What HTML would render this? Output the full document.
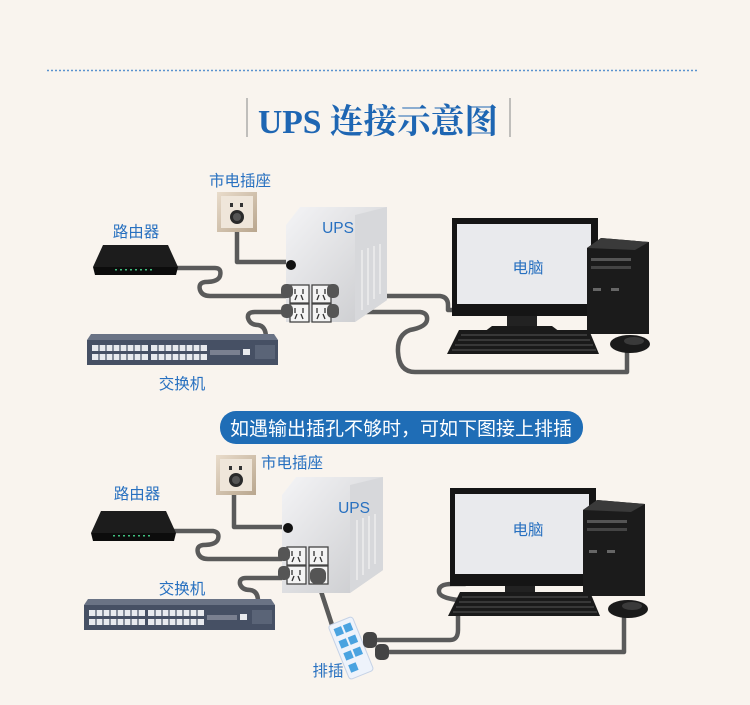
<!DOCTYPE html>
<html><head><meta charset="utf-8"><style>
html,body{margin:0;padding:0;background:#f9f4ee;}
svg{display:block}
text{font-family:"Liberation Sans","Noto Sans CJK SC",sans-serif;}
</style></head><body>
<svg width="750" height="705" viewBox="0 0 750 705" xmlns="http://www.w3.org/2000/svg">
<defs>
<linearGradient id="ups" x1="0" y1="0" x2="1" y2="1"><stop offset="0" stop-color="#f4f4f6"/><stop offset="1" stop-color="#c8c9cc"/></linearGradient>
<linearGradient id="sock" x1="0" y1="0" x2="1" y2="1"><stop offset="0" stop-color="#e9dccb"/><stop offset="1" stop-color="#b9a68e"/></linearGradient>
<g id="router">
<polygon points="10,0 75,0 85,22 0,22" fill="#1c1c1c"/>
<polygon points="0,22 85,22 83,30 2,30" fill="#0c0c0c"/>
<g fill="#3fbf7f"><rect x="22" y="24" width="2" height="1.5"/><rect x="27" y="24" width="2" height="1.5"/><rect x="32" y="24" width="2" height="1.5"/><rect x="37" y="24" width="2" height="1.5"/><rect x="42" y="24" width="2" height="1.5"/><rect x="47" y="24" width="2" height="1.5"/><rect x="52" y="24" width="2" height="1.5"/><rect x="57" y="24" width="2" height="1.5"/></g>
</g>
<g id="switch">
<polygon points="4,0 187,0 191,6 0,6" fill="#6a7385"/>
<rect x="0" y="6" width="191" height="25" fill="#465064"/>
<g fill="#e8eaee">
<rect x="5" y="11" width="56" height="6"/><rect x="5" y="20" width="56" height="6"/>
<rect x="64" y="11" width="56" height="6"/><rect x="64" y="20" width="56" height="6"/>
<rect x="123" y="16" width="30" height="5" fill="#7a8090"/>
<rect x="156" y="15" width="7" height="6"/>
</g>
<g stroke="#465064" stroke-width="1.2"><path d="M12 11v15M19 11v15M26 11v15M33 11v15M40 11v15M47 11v15M54 11v15M71 11v15M78 11v15M85 11v15M92 11v15M99 11v15M106 11v15M113 11v15"/></g>
<rect x="168" y="11" width="20" height="14" fill="#5a6477"/>
</g>
<g id="socket">
<rect x="0" y="0" width="40" height="40" fill="url(#sock)"/>
<rect x="4" y="4" width="32" height="32" fill="#efe6da"/>
<rect x="13" y="11" width="3" height="4" fill="#333"/><rect x="23" y="11" width="3" height="4" fill="#333"/>
<circle cx="20" cy="25" r="7" fill="#2a2a2a"/><circle cx="20" cy="25" r="4" fill="#555"/>
</g>
<g id="monitor">
<rect x="0" y="0" width="146" height="98" fill="#151515"/>
<rect x="5" y="6" width="134" height="80" fill="#e9eaed"/>
<rect x="55" y="98" width="30" height="10" fill="#222"/>
<polygon points="40,108 100,108 108,114 32,114" fill="#1a1a1a"/>
</g>
<g id="tower">
<polygon points="0,10 14,0 62,4 62,96 0,96" fill="#1b1b1b"/>
<polygon points="14,0 62,4 48,12 0,10" fill="#3a3a3a"/>
<rect x="4" y="20" width="40" height="3" fill="#555"/><rect x="4" y="28" width="40" height="3" fill="#444"/>
<rect x="6" y="50" width="8" height="3" fill="#666"/><rect x="24" y="50" width="8" height="3" fill="#666"/>
</g>
<g id="kb">
<polygon points="12,0 142,0 152,24 0,24" fill="#1a1a1a"/>
<g stroke="#555" stroke-width="1"><path d="M14 5h126M11 10h132M8 15h138M5 20h144"/></g>
</g>
<g id="mouse"><ellipse cx="20" cy="9" rx="20" ry="9" fill="#1a1a1a"/><ellipse cx="24" cy="6" rx="10" ry="4" fill="#3a3a3a"/></g>
<g id="outlet"><rect x="0" y="0" width="19" height="18" fill="#f4f4f4" stroke="#444" stroke-width="1.3"/><path d="M5 4v5M13 4v5M7 10l-2 5M11 10l2 5" stroke="#333" stroke-width="1.3"/></g>
<g id="plug"><rect x="0" y="0" width="12" height="14" rx="5" fill="#555"/></g>
</defs>

<line x1="47" y1="70.5" x2="697" y2="70.5" stroke="#5b93cf" stroke-width="1.6" stroke-dasharray="2,2"/>
<line x1="247" y1="98" x2="247" y2="137" stroke="#888" stroke-width="1"/>
<line x1="510" y1="98" x2="510" y2="137" stroke="#888" stroke-width="1"/>
<text x="258" y="133" textLength="240" lengthAdjust="spacingAndGlyphs" font-size="34" font-weight="bold" fill="#1e66b3" style="font-family:'Liberation Serif','Noto Serif CJK SC',serif">UPS 连接示意图</text>

<g fill="none" stroke="#5a5a5a" stroke-width="4.5" stroke-linejoin="round" stroke-linecap="round">
<path d="M237 225 V262 H290"/>
<path d="M175 268 H215 Q222 268 220 276 Q218 282 205 282 Q198 283 200 290 Q202 296 210 296 H290"/>
<path d="M290 312 H255 Q247 312 248 318 Q250 325 258 325 Q266 326 266 338"/>
<path d="M335 296 H440 Q448 297 448 305 V310 H460"/>
<path d="M335 312 H420 Q428 313 427 320 Q426 327 410 330 Q397 335 398 352 Q399 372 415 372 H627 V340"/>
</g>
<use href="#socket" x="217" y="192"/>
<polygon points="286,225 300,207 387,207 387,300 355,322 286,322" fill="url(#ups)"/>
<polygon points="355,215 387,207 387,300 355,322" fill="#d7d8db"/>
<g stroke="#eee" stroke-width="1.5"><path d="M362 250v60M368 248v57M374 246v53M380 244v50"/></g>
<circle cx="291" cy="265" r="5" fill="#111"/>
<use href="#outlet" x="290" y="285"/><use href="#outlet" x="312" y="285"/>
<use href="#outlet" x="290" y="304"/><use href="#outlet" x="312" y="304"/>
<use href="#plug" x="281" y="284"/><use href="#plug" x="281" y="304"/>
<use href="#plug" x="327" y="284"/><use href="#plug" x="327" y="304"/>
<use href="#router" x="93" y="245"/>
<use href="#switch" x="87" y="334"/>
<use href="#monitor" x="452" y="218"/>
<use href="#tower" x="587" y="238"/>
<use href="#kb" x="447" y="330"/>
<use href="#mouse" x="610" y="335"/>
<g fill="#2770c0" font-size="15.5">
<text x="240" y="186" text-anchor="middle">市电插座</text>
<text x="136" y="237" text-anchor="middle">路由器</text>
<text x="338" y="233" text-anchor="middle">UPS</text>
<text x="528" y="273" text-anchor="middle">电脑</text>
<text x="182" y="389" text-anchor="middle">交换机</text>
</g>

<rect x="220" y="411" width="363" height="33" rx="16" fill="#1f6db6"/>
<text x="401" y="435" text-anchor="middle" font-size="19" fill="#fff">如遇输出插孔不够时，可如下图接上排插</text>

<g fill="none" stroke="#5a5a5a" stroke-width="4.5" stroke-linejoin="round" stroke-linecap="round">
<path d="M234 490 V527 H288"/>
<path d="M172 531 H213 Q220 532 218 539 Q216 545 203 545 Q196 546 198 553 Q200 559 208 559 H288"/>
<path d="M288 578 H246 Q239 578 240 584 Q242 590 250 590 Q258 591 258 601"/>
<path d="M318 582 L333 628"/>
<path d="M372 640 H450 Q458 640 458 630 V600 Q440 598 439 592 Q438 584 452 584 H465"/>
<path d="M385 652 H624 V612"/>
</g>
<use href="#socket" x="216" y="455"/>
<polygon points="282,495 296,477 383,477 383,570 350,593 282,593" fill="url(#ups)"/>
<polygon points="350,485 383,477 383,570 350,593" fill="#d7d8db"/>
<g stroke="#eee" stroke-width="1.5"><path d="M357 520v60M363 518v57M369 516v53M375 514v50"/></g>
<circle cx="288" cy="528" r="5" fill="#111"/>
<use href="#outlet" x="287" y="547"/><use href="#outlet" x="309" y="547"/>
<use href="#outlet" x="287" y="566"/><use href="#outlet" x="309" y="566"/>
<use href="#plug" x="278" y="547"/><use href="#plug" x="278" y="566"/>
<rect x="310" y="568" width="16" height="16" rx="6" fill="#555"/>
<use href="#router" x="91" y="511"/>
<use href="#switch" x="84" y="599"/>
<use href="#monitor" x="450" y="488"/>
<use href="#tower" x="583" y="500"/>
<use href="#kb" x="448" y="592"/>
<use href="#mouse" x="608" y="600"/>
<g transform="translate(328,626) rotate(-22)">
<rect x="0" y="0" width="26" height="58" rx="3" fill="#eef3fb" stroke="#c5d2e6"/>
<rect x="4" y="5" width="8" height="8" fill="#4aa3e0"/><rect x="14" y="5" width="8" height="8" fill="#4aa3e0"/>
<rect x="4" y="18" width="8" height="8" fill="#4aa3e0"/><rect x="14" y="18" width="8" height="8" fill="#4aa3e0"/>
<rect x="4" y="31" width="8" height="8" fill="#4aa3e0"/><rect x="14" y="31" width="8" height="8" fill="#4aa3e0"/>
<rect x="4" y="44" width="8" height="8" fill="#4aa3e0"/>
</g>
<rect x="363" y="632" width="14" height="16" rx="5" fill="#444"/>
<rect x="375" y="644" width="14" height="16" rx="5" fill="#444"/>
<g fill="#2770c0" font-size="15.5">
<text x="292" y="468" text-anchor="middle">市电插座</text>
<text x="137" y="499" text-anchor="middle">路由器</text>
<text x="354" y="513" text-anchor="middle">UPS</text>
<text x="528" y="535" text-anchor="middle">电脑</text>
<text x="182" y="594" text-anchor="middle">交换机</text>
<text x="328" y="676" text-anchor="middle">排插</text>
</g>
</svg>
</body></html>
